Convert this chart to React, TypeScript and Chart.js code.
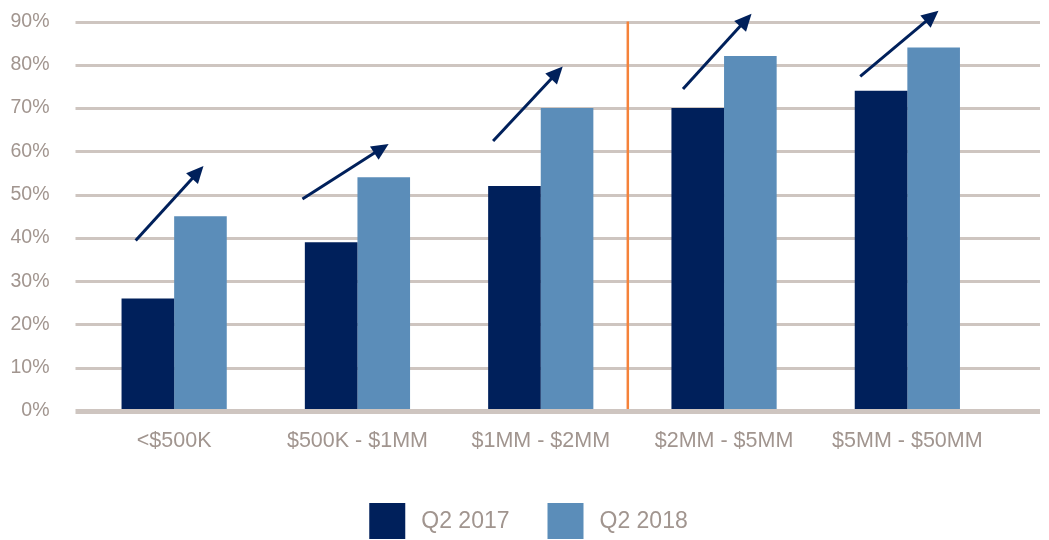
import React, { useEffect, useRef } from 'react';
import { Chart, registerables } from 'chart.js';

Chart.register(...registerables);

const categories = ['<$500K', '$500K - $1MM', '$1MM - $2MM', '$2MM - $5MM', '$5MM - $50MM'];
const seriesLabels = ['Q2 2017', 'Q2 2018'];
const q2_2017 = [26, 39, 52, 70, 74];
const q2_2018 = [45, 54, 70, 82, 84];
const yMax = 90;
const yStep = 10;

// arrows in data units (x = category position, y = percent)
const arrowFromX = [-0.21, 0.70, 1.74, 2.776, 3.743];
const arrowFromY = [39.4, 49, 62.4, 74.4, 77.3];
const arrowToX = [0.16, 1.17, 2.12, 3.15, 4.17];
const arrowToY = [56.6, 61.7, 79.6, 91.8, 92.5];

const dividerAt = 2.475;

const NAVY = '#00205B';
const STEEL = '#5B8DB9';
const GRID = '#CEC5C0';
const TEXT = '#A1958F';
const ORANGE = '#F5823A';
const FONT = "'Liberation Sans', Arial, sans-serif";

const decorPlugin = {
  id: 'decor',
  beforeDatasetsDraw(chart: any) {
    const { ctx, chartArea, scales } = chart;
    const y = scales.y;
    const x = scales.x;
    ctx.save();
    ctx.strokeStyle = GRID;
    ctx.lineWidth = 3;
    y.ticks.forEach((t: any) => {
      if (t.value === 0) return;
      const py = Math.round(y.getPixelForValue(t.value)) + 0.5;
      ctx.beginPath();
      ctx.moveTo(chartArea.left - 7, py);
      ctx.lineTo(chart.width - 9, py);
      ctx.stroke();
    });
    const dx = x.getPixelForValue(dividerAt);
    ctx.strokeStyle = ORANGE;
    ctx.lineWidth = 2.5;
    ctx.beginPath();
    ctx.moveTo(dx, y.getPixelForValue(yMax));
    ctx.lineTo(dx, y.getPixelForValue(0));
    ctx.stroke();
    ctx.restore();
  },
  afterDatasetsDraw(chart: any) {
    const { ctx, chartArea, scales } = chart;
    const y = scales.y;
    const x = scales.x;
    ctx.save();
    // zero line
    ctx.strokeStyle = GRID;
    ctx.lineWidth = 5;
    const py = y.getPixelForValue(0) + 0.5;
    ctx.beginPath();
    ctx.moveTo(chartArea.left - 7, py);
    ctx.lineTo(chart.width - 9, py);
    ctx.stroke();
    // arrows
    ctx.strokeStyle = NAVY;
    ctx.fillStyle = NAVY;
    ctx.lineWidth = 3;
    for (let i = 0; i < arrowFromX.length; i++) {
      const x1 = x.getPixelForValue(arrowFromX[i]);
      const y1 = y.getPixelForValue(arrowFromY[i]);
      const x2 = x.getPixelForValue(arrowToX[i]);
      const y2 = y.getPixelForValue(arrowToY[i]);
      const ang = Math.atan2(y2 - y1, x2 - x1);
      const headLen = 17;
      const headHalf = 8;
      const bx = x2 - headLen * Math.cos(ang);
      const by = y2 - headLen * Math.sin(ang);
      ctx.beginPath();
      ctx.moveTo(x1, y1);
      ctx.lineTo(bx + 2 * Math.cos(ang), by + 2 * Math.sin(ang));
      ctx.stroke();
      ctx.beginPath();
      ctx.moveTo(x2, y2);
      ctx.lineTo(bx - headHalf * Math.sin(ang), by + headHalf * Math.cos(ang));
      ctx.lineTo(bx + headHalf * Math.sin(ang), by - headHalf * Math.cos(ang));
      ctx.closePath();
      ctx.fill();
    }
    ctx.restore();
  },
  afterDraw(chart: any) {
    const { ctx } = chart;
    const ds = chart.data.datasets;
    ctx.save();
    ctx.font = `23px ${FONT}`;
    ctx.textBaseline = 'middle';
    const box = 36;
    const gap = 16;
    const itemGap = 38;
    const widths = ds.map((d: any) => box + gap + ctx.measureText(d.label).width);
    const total = widths.reduce((a: number, b: number) => a + b, 0) + itemGap * (ds.length - 1);
    let cx = chart.width / 2 + 4 - total / 2;
    const cy = 521;
    ds.forEach((d: any, i: number) => {
      ctx.fillStyle = d.backgroundColor;
      ctx.fillRect(cx, cy - box / 2, box, box);
      ctx.fillStyle = TEXT;
      ctx.fillText(d.label, cx + box + gap, cy + 1);
      cx += widths[i] + itemGap;
    });
    ctx.restore();
  },
};

export default function App() {
  const ref = useRef<HTMLCanvasElement | null>(null);
  useEffect(() => {
    if (!ref.current) return;
    const chart = new Chart(ref.current, {
      type: 'bar',
      data: {
        labels: categories,
        datasets: [
          {
            label: seriesLabels[0],
            data: q2_2017,
            backgroundColor: NAVY,
            borderWidth: 0,
            categoryPercentage: 0.574,
            barPercentage: 1,
          },
          {
            label: seriesLabels[1],
            data: q2_2018,
            backgroundColor: STEEL,
            borderWidth: 0,
            categoryPercentage: 0.574,
            barPercentage: 1,
          },
        ],
      },
      options: {
        responsive: false,
        animation: false,
        layout: { padding: { top: 21.5, right: 50, left: 0, bottom: 0 } },
        plugins: {
          legend: { display: false },
          tooltip: { enabled: false },
        },
        scales: {
          x: {
            grid: { display: false, drawTicks: false },
            border: { display: false },
            ticks: {
              color: TEXT,
              font: { family: FONT, size: 21.5 },
              padding: 17,
              maxRotation: 0,
              autoSkip: false,
            },
            afterFit(scale: any) {
              scale.height = 129;
            },
          },
          y: {
            min: 0,
            max: yMax,
            grid: { display: false, drawTicks: false },
            border: { display: false },
            ticks: {
              stepSize: yStep,
              color: TEXT,
              font: { family: FONT, size: 19.5 },
              padding: 33,
              callback: (v: any) => `${v}%`,
            },
            afterFit(scale: any) {
              scale.width = 82.5;
              scale.paddingTop = 0;
              scale.paddingBottom = 0;
            },
          },
        },
      },
      plugins: [decorPlugin],
    });
    return () => chart.destroy();
  }, []);
  return (
    <div style={{ position: 'absolute', left: 0, top: 0, width: 1049, height: 540, background: '#fff' }}>
      <canvas ref={ref} width={1049} height={540} style={{ display: 'block' }} />
    </div>
  );
}
